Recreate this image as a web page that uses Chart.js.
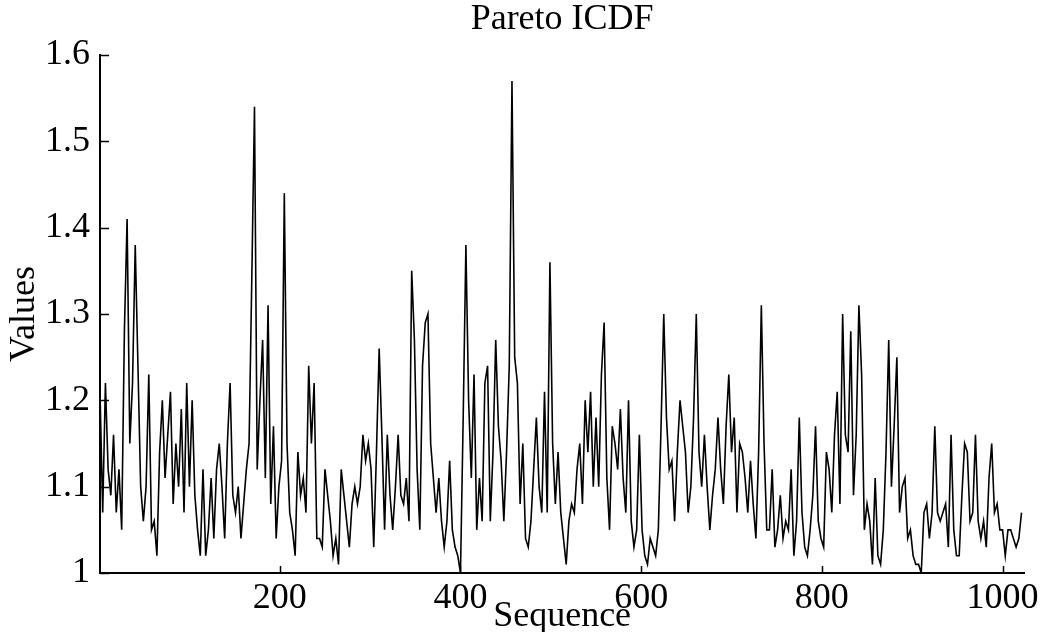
<!DOCTYPE html>
<html>
<head>
<meta charset="utf-8">
<script src="https://cdn.jsdelivr.net/npm/chart.js@4.4.1/dist/chart.umd.min.js"></script>
<style>
html,body{margin:0;padding:0;background:#fff;}
#wrap{width:1043px;height:632px;position:relative;}
</style>
</head>
<body>
<div id="wrap"><canvas id="c" width="1043" height="632"></canvas></div>
<script>
const chartTitle = 'Pareto ICDF';
const xAxisTitle = 'Sequence';
const yAxisTitle = 'Values';
const xTickValues = [200, 400, 600, 800, 1000];
const yTickValues = [1, 1.1, 1.2, 1.3, 1.4, 1.5, 1.6];
const seqStart = 1;
const seqStep = 3;
const values = [
  1.21,1.07,1.22,1.12,1.09,1.16,1.07,1.12,1.05,1.28,1.41,1.15,1.22,1.38,1.24,1.10,1.06,1.10,1.23,1.05,1.06,1.02,1.14,1.20,1.11,1.16,1.21,1.08,1.15,1.10,1.19,1.07,1.22,1.10,1.20,
  1.09,1.05,1.02,1.12,1.02,1.05,1.11,1.04,1.12,1.15,1.10,1.04,1.15,1.22,1.09,1.07,1.10,1.04,1.08,1.12,1.15,1.34,1.54,1.12,1.20,1.27,1.11,1.31,1.08,1.17,1.04,1.10,1.13,1.44,1.15,
  1.07,1.05,1.02,1.14,1.09,1.11,1.07,1.24,1.15,1.22,1.04,1.04,1.03,1.12,1.09,1.06,1.02,1.04,1.01,1.12,1.09,1.06,1.03,1.08,1.10,1.08,1.10,1.16,1.13,1.15,1.12,1.03,1.14,1.26,1.16,
  1.05,1.16,1.09,1.05,1.10,1.16,1.09,1.08,1.11,1.06,1.35,1.27,1.12,1.05,1.24,1.29,1.30,1.15,1.11,1.07,1.11,1.06,1.03,1.06,1.13,1.05,1.03,1.02,1.00,1.18,1.38,1.20,1.11,1.23,1.05,
  1.11,1.06,1.22,1.24,1.06,1.14,1.27,1.17,1.13,1.06,1.14,1.24,1.57,1.25,1.22,1.08,1.15,1.04,1.03,1.06,1.12,1.18,1.10,1.07,1.21,1.07,1.36,1.15,1.08,1.14,1.07,1.04,1.01,1.06,1.08,
  1.07,1.12,1.15,1.08,1.20,1.14,1.21,1.10,1.18,1.10,1.23,1.29,1.11,1.05,1.17,1.15,1.12,1.19,1.11,1.07,1.20,1.06,1.03,1.05,1.16,1.05,1.02,1.01,1.04,1.03,1.02,1.05,1.17,1.30,1.18,
  1.12,1.13,1.06,1.14,1.20,1.17,1.14,1.07,1.10,1.18,1.30,1.14,1.10,1.16,1.10,1.05,1.09,1.12,1.18,1.12,1.08,1.17,1.23,1.14,1.18,1.07,1.15,1.14,1.11,1.07,1.13,1.08,1.04,1.14,1.31,
  1.15,1.05,1.05,1.12,1.03,1.05,1.09,1.04,1.06,1.05,1.12,1.02,1.06,1.18,1.07,1.03,1.02,1.05,1.09,1.17,1.06,1.04,1.03,1.14,1.12,1.07,1.16,1.21,1.08,1.30,1.16,1.14,1.28,1.09,1.16,
  1.31,1.23,1.05,1.08,1.06,1.01,1.11,1.02,1.01,1.05,1.14,1.27,1.10,1.17,1.25,1.07,1.10,1.11,1.04,1.05,1.02,1.01,1.01,1.00,1.07,1.08,1.04,1.07,1.17,1.07,1.06,1.07,1.08,1.03,1.16,
  1.05,1.02,1.02,1.09,1.15,1.14,1.06,1.07,1.16,1.06,1.04,1.06,1.03,1.11,1.15,1.07,1.08,1.05,1.05,1.02,1.05,1.05,1.04,1.03,1.04,1.07
];

const points = values.map((v, j) => ({ x: seqStart + seqStep * j, y: v }));
const FONT = "'Liberation Serif', 'Times New Roman', serif";

const inwardTicks = {
  id: 'inwardTicks',
  afterDraw(chart) {
    const { ctx, chartArea: a, scales: { x, y } } = chart;
    ctx.save();
    ctx.strokeStyle = '#000';
    ctx.lineWidth = 1.5;
    ctx.beginPath();
    y.ticks.forEach(t => {
      const py = Math.round(y.getPixelForValue(t.value)) + 0.5;
      ctx.moveTo(a.left, py);
      ctx.lineTo(a.left + 9, py);
    });
    x.ticks.forEach(t => {
      const px = Math.round(x.getPixelForValue(t.value)) + 0.5;
      ctx.moveTo(px, a.bottom);
      ctx.lineTo(px, a.bottom - 7);
    });
    ctx.stroke();
    ctx.restore();
  }
};

new Chart(document.getElementById('c'), {
  type: 'line',
  data: {
    datasets: [{
      data: points,
      borderColor: '#000',
      borderWidth: 1.6,
      pointRadius: 0,
      tension: 0,
      fill: false
    }]
  },
  options: {
    responsive: false,
    animation: false,
    devicePixelRatio: 1,
    layout: { padding: { top: -2, right: 13, left: 0, bottom: 0 } },
    plugins: {
      legend: { display: false },
      tooltip: { enabled: false },
      title: {
        display: true,
        fullSize: false,
        text: chartTitle,
        color: '#000',
        font: { family: FONT, size: 36, weight: 'normal' },
        padding: { top: 0, bottom: 13.8 }
      }
    },
    scales: {
      x: {
        type: 'linear',
        min: 1,
        max: 1024,
        grid: { display: false, drawTicks: false },
        border: { display: true, color: '#000', width: 2 },
        afterBuildTicks: s => { s.ticks = xTickValues.map(v => ({ value: v })); },
        afterFit: s => { s.height = 59; },
        ticks: {
          color: '#000',
          padding: 4,
          maxRotation: 0,
          font: { family: FONT, size: 36 },
          callback: v => String(v)
        },
        title: {
          display: true,
          text: xAxisTitle,
          color: '#000',
          font: { family: FONT, size: 36 },
          padding: { top: 0, bottom: -6 }
        }
      },
      y: {
        type: 'linear',
        min: 1,
        max: 1.6,
        grid: { display: false, drawTicks: false },
        border: { display: true, color: '#000', width: 2 },
        afterBuildTicks: s => { s.ticks = yTickValues.map(v => ({ value: v })); },
        afterFit: s => { s.width = 100; },
        ticks: {
          color: '#000',
          padding: 10,
          font: { family: FONT, size: 36 },
          callback: v => String(Math.round(v * 10) / 10)
        },
        title: {
          display: true,
          text: yAxisTitle,
          color: '#000',
          font: { family: FONT, size: 36 },
          padding: { top: 3, bottom: 0 }
        }
      }
    }
  },
  plugins: [inwardTicks]
});
</script>
</body>
</html>
